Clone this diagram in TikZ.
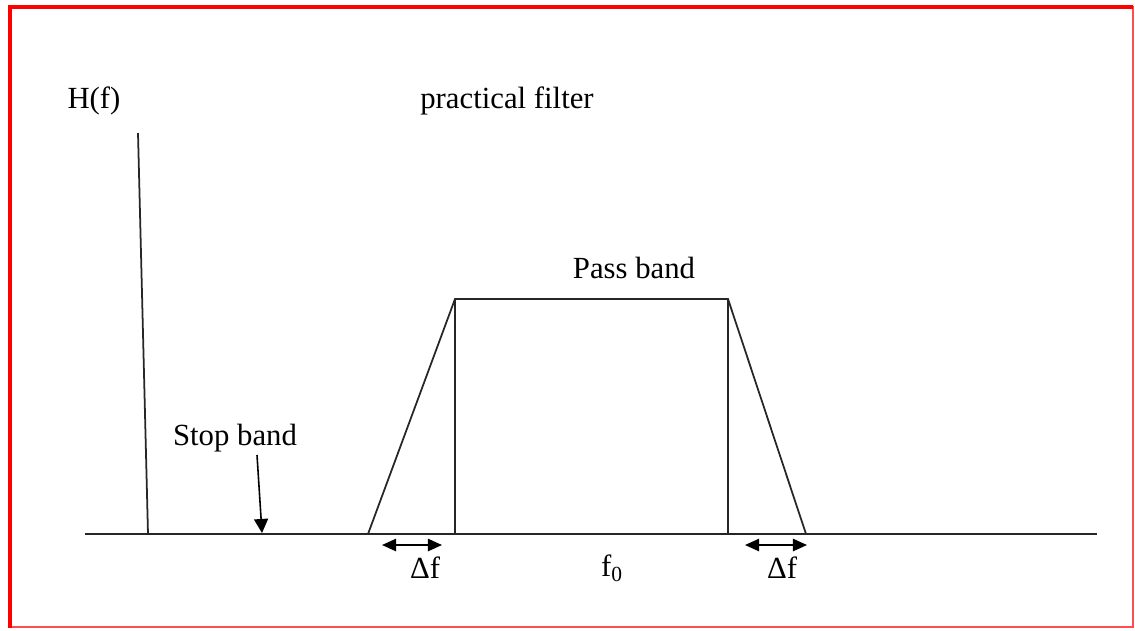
\documentclass[tikz,border=0pt]{standalone}
\usepackage{fontspec}
\setmainfont{Liberation Serif}
\usepackage{tikz}
\usetikzlibrary{arrows.meta,positioning}

\begin{document}
\begin{tikzpicture}[
  x=0.02cm, y=-0.02cm,
  font=\fontsize{17.5}{20}\selectfont,
  lbl/.style={inner sep=1pt, text=black},
  curve/.style={black!85, line width=1pt},
  arr/.style={-{Triangle[length=8pt, width=8pt]}, black, line width=0.9pt},
  dbl/.style={{Triangle[length=8pt, width=7pt]}-{Triangle[length=8pt, width=7pt]}, black, line width=1pt}]
\useasboundingbox (0,0) rectangle (1135,630);
% frame
\draw[red!70, line width=0.6pt] (10,7) rectangle (1133,627);
\draw[red, line width=2pt] (10,628) -- (10,7) -- (1133,7);
% axes
\coordinate (ax0) at (85,534);
\coordinate (ax1) at (1097,534);
\coordinate (vtop) at (138,133);
\coordinate (vbot) at (148,534);
\draw[curve] (ax0) -- (ax1);
\draw[curve] (vbot) -- (vtop);
% trapezoid
\coordinate (lfoot) at (368,534);
\coordinate (ltop) at (455,299);
\coordinate (rtop) at (728,299);
\coordinate (rfoot) at (806,534);
\draw[curve] (lfoot) -- (ltop) -- (rtop) -- (rfoot);
\draw[curve] (ltop) -- (ltop|-ax0);
\draw[curve] (rtop) -- (rtop|-ax0);
% labels
\node[lbl] (hf) at (94,101) {H(f)};
\node[lbl] (title) at (507,101) {practical filter};
\node[lbl] (pass) at (634,268) {Pass band};
\node[lbl] (stop) at (235,438) {Stop band};
\node[lbl] (f0) at (612,568) {f\textsubscript{0}};
\node[lbl] (dfl) at (425,568) {Δf};
\node[lbl] (dfr) at (782,568) {Δf};
% arrows
\coordinate (stoptip) at (262,533);
\draw[arr] (257,455) -- (stoptip);
\coordinate (dl0) at (382,545);
\coordinate (dl1) at (442,545);
\coordinate (dr0) at (745,545);
\coordinate (dr1) at (807,545);
\draw[dbl] (dl0) -- (dl1);
\draw[dbl] (dr0) -- (dr1);
\end{tikzpicture}
\end{document}
